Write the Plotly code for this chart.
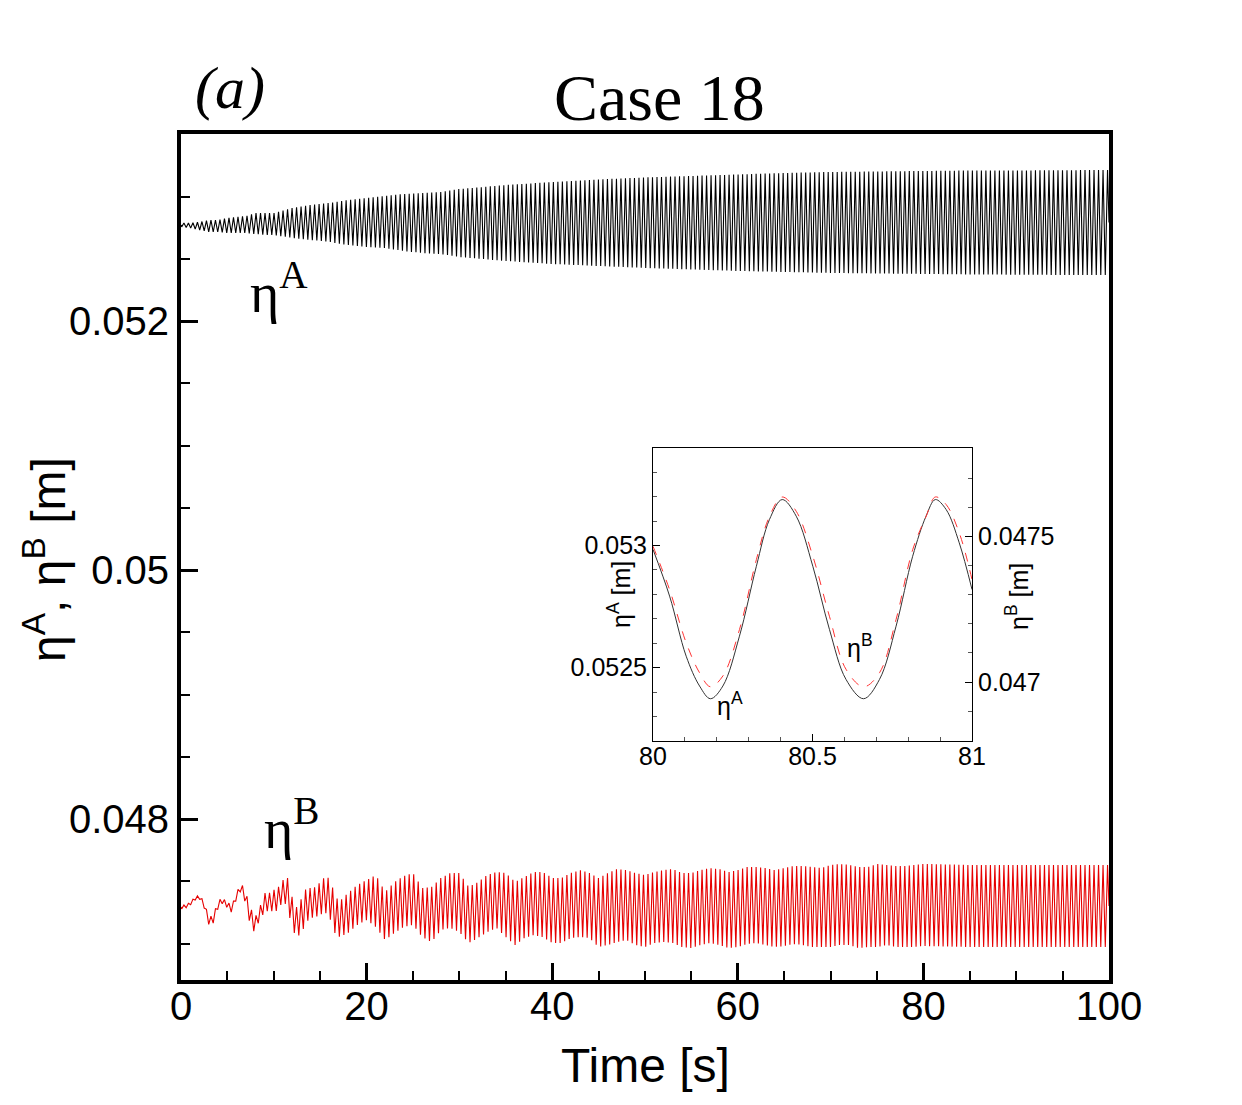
import numpy as np
import plotly.graph_objects as go

# ---------------- data ----------------
# Envelope (successive maxima / minima) of eta^A, main panel
etaA_t = [0, 1, 2, 3, 4, 5, 6, 7, 8, 9, 10, 12, 14, 16, 18, 20, 22, 24, 26, 28,
          30, 35, 40, 45, 50, 55, 60, 65, 70, 75, 80, 85, 90, 95, 100]
etaA_max = [0.052787, 0.052787, 0.052795, 0.052811, 0.052811, 0.052827, 0.052835,
            0.052843, 0.052867, 0.052867, 0.052867, 0.052908, 0.052932, 0.052948,
            0.052972, 0.052988, 0.053004, 0.053020, 0.053028, 0.053036, 0.053060,
            0.053092, 0.053116, 0.053137, 0.053153, 0.053165, 0.053177, 0.053189,
            0.053197, 0.053201, 0.053205, 0.053209, 0.053209, 0.053211, 0.053213]
etaA_min = [0.052757, 0.052747, 0.052731, 0.052715, 0.052715, 0.052707, 0.052707,
            0.052707, 0.052699, 0.052691, 0.052691, 0.052667, 0.052651, 0.052635,
            0.052610, 0.052594, 0.052586, 0.052562, 0.052546, 0.052538, 0.052514,
            0.052482, 0.052458, 0.052442, 0.052426, 0.052414, 0.052402, 0.052394,
            0.052386, 0.052382, 0.052378, 0.052374, 0.052372, 0.052370, 0.052370]

# Envelope of eta^B, main panel
etaB_t = [0, 0.5, 1, 1.5, 2, 2.5, 3, 3.5, 4, 4.5, 5, 5.5, 6, 6.5, 7, 7.5, 8, 8.5,
          9, 9.5, 10, 10.5, 11, 11.5, 12, 12.5, 13, 13.5, 14, 14.5, 15, 15.5, 16,
          16.5, 17, 18, 19, 20, 21, 22, 23, 24, 25, 26, 27, 28, 29, 30, 31, 32,
          33, 34, 35, 36, 37, 38, 39, 40, 41, 42, 43, 44, 45, 46, 47, 48, 49, 50,
          51, 52, 53, 54, 55, 56, 57, 58, 59, 60, 61, 62, 63, 64, 65, 66, 67, 68,
          69, 70, 71, 72, 73, 74, 75, 76, 77, 78, 79, 80, 85, 90, 95, 100]
etaB_max = [0.047309, 0.047309, 0.047333, 0.047374, 0.047390, 0.047333, 0.047213,
            0.047229, 0.047349, 0.047365, 0.047333, 0.047309, 0.047414, 0.047486,
            0.047406, 0.047285, 0.047213, 0.047293, 0.047406, 0.047406, 0.047430,
            0.047454, 0.047510, 0.047526, 0.047365, 0.047285, 0.047365, 0.047446,
            0.047446, 0.047454, 0.047494, 0.047534, 0.047526, 0.047414, 0.047333,
            0.047406, 0.047470, 0.047510, 0.047550, 0.047414, 0.047494, 0.047542,
            0.047566, 0.047446, 0.047454, 0.047526, 0.047566, 0.047566, 0.047454,
            0.047494, 0.047550, 0.047574, 0.047566, 0.047494, 0.047534, 0.047574,
            0.047574, 0.047526, 0.047526, 0.047566, 0.047590, 0.047566, 0.047526,
            0.047566, 0.047598, 0.047590, 0.047566, 0.047550, 0.047574, 0.047590,
            0.047598, 0.047566, 0.047566, 0.047590, 0.047606, 0.047598, 0.047574,
            0.047590, 0.047614, 0.047614, 0.047606, 0.047590, 0.047606, 0.047622,
            0.047622, 0.047614, 0.047606, 0.047631, 0.047639, 0.047631, 0.047614,
            0.047614, 0.047639, 0.047631, 0.047622, 0.047622, 0.047631, 0.047639,
            0.047631, 0.047631, 0.047631, 0.047631]
etaB_min = [0.047277, 0.047285, 0.047309, 0.047349, 0.047357, 0.047285, 0.047149,
            0.047165, 0.047285, 0.047325, 0.047285, 0.047245, 0.047365, 0.047430,
            0.047309, 0.047133, 0.047084, 0.047205, 0.047245, 0.047269, 0.047253,
            0.047269, 0.047349, 0.047285, 0.047108, 0.047052, 0.047084, 0.047173,
            0.047205, 0.047213, 0.047229, 0.047253, 0.047213, 0.047092, 0.047052,
            0.047084, 0.047149, 0.047189, 0.047133, 0.047028, 0.047084, 0.047133,
            0.047149, 0.047052, 0.047012, 0.047108, 0.047125, 0.047092, 0.047004,
            0.047044, 0.047092, 0.047125, 0.047052, 0.046988, 0.047044, 0.047068,
            0.047052, 0.047004, 0.047004, 0.047044, 0.047052, 0.047044, 0.046972,
            0.046988, 0.047012, 0.047028, 0.046988, 0.046972, 0.047004, 0.047012,
            0.047004, 0.046972, 0.046964, 0.046988, 0.047004, 0.046988, 0.046964,
            0.046972, 0.046996, 0.047004, 0.046988, 0.046972, 0.046980, 0.046996,
            0.046988, 0.046972, 0.046972, 0.046972, 0.046988, 0.046988, 0.046964,
            0.046972, 0.046972, 0.046988, 0.046972, 0.046972, 0.046972, 0.046980,
            0.046972, 0.046972, 0.046972, 0.046972]

half_period = 0.24275   # s, half of the oscillation period
first_trough = 0.0725   # s

# Inset (80 s - 81 s)
ins_t = [80.0, 80.052, 80.104, 80.146, 80.18, 80.219, 80.271, 80.324, 80.365,
         80.405, 80.449, 80.501, 80.553, 80.605, 80.66, 80.71, 80.762, 80.814,
         80.856, 80.885, 80.919, 80.96, 81.0]
ins_A = [0.052984, 0.052793, 0.052547, 0.052425, 0.052373, 0.052425, 0.052629,
         0.052915, 0.053106, 0.053188, 0.053120, 0.052915, 0.052657, 0.052452,
         0.052373, 0.052452, 0.052670, 0.052956, 0.053120, 0.053188, 0.053147,
         0.053011, 0.052820]
ins_B = [0.047466, 0.047317, 0.047135, 0.047032, 0.046984, 0.047021, 0.047180,
         0.047420, 0.047568, 0.047635, 0.047586, 0.047432, 0.047226, 0.047044,
         0.046984, 0.047032, 0.047215, 0.047454, 0.047568, 0.047635, 0.047609,
         0.047512, 0.047352]

main_yticks = [0.048, 0.05, 0.052]
main_yticktext = ["0.048", "0.05", "0.052"]
main_xticks = [0, 20, 40, 60, 80, 100]
inset_xticks = [80, 80.5, 81]
inset_xticktext = ["80", "80.5", "81"]
insA_ticks = [0.0525, 0.053]
insA_ticktext = ["0.0525", "0.053"]
insB_ticks = [0.047, 0.0475]
insB_ticktext = ["0.047", "0.0475"]


def extrema_line(env_t, env_max, env_min):
    tv = first_trough + half_period * np.arange(int((100 - first_trough) / half_period) + 1)
    hi = np.interp(tv, env_t, env_max)
    lo = np.interp(tv, env_t, env_min)
    k = np.arange(len(tv))
    yv = np.where(k % 2 == 0, lo, hi)
    t_all = np.concatenate([[0.0], tv, [100.0]])
    y_all = np.concatenate([[(env_max[0] + env_min[0]) / 2], yv,
                            [(env_max[-1] + env_min[-1]) / 2]])
    return t_all, y_all


tA, yA = extrema_line(etaA_t, etaA_max, etaA_min)
tB, yB = extrema_line(etaB_t, etaB_max, etaB_min)

BLACK = "#000000"
RED = "#e60000"
SANS = "Liberation Sans, Arial, sans-serif"
SERIF = "Liberation Serif, Times New Roman, serif"

fig = go.Figure()
fig.add_trace(go.Scatter(x=tA, y=yA, mode="lines", showlegend=False,
                         line=dict(color=BLACK, width=1.1, simplify=False),
                         xaxis="x", yaxis="y"))
fig.add_trace(go.Scatter(x=tB, y=yB, mode="lines", showlegend=False,
                         line=dict(color=RED, width=1.1, simplify=False),
                         xaxis="x", yaxis="y"))
fig.add_trace(go.Scatter(x=ins_t, y=ins_A, mode="lines", showlegend=False,
                         line=dict(color="#333333", width=1, shape="spline", smoothing=1.0),
                         xaxis="x2", yaxis="y3"))
fig.add_trace(go.Scatter(x=ins_t, y=ins_B, mode="lines", showlegend=False,
                         line=dict(color="#ff3333", width=1, dash="dash", shape="spline",
                                   smoothing=1.0),
                         xaxis="x2", yaxis="y4"))

W, H = 1242, 1105
ML, MR, MT, MB = 181, 133, 134, 125
PW, PH = W - ML - MR, H - MT - MB


def px_x(px):
    return (px - ML) / PW


def px_y(py):
    return (H - MB - py) / PH


fig.update_layout(
    width=W, height=H, autosize=False,
    margin=dict(l=ML, r=MR, t=MT, b=MB, pad=0),
    paper_bgcolor="white", plot_bgcolor="white",
    showlegend=False,
    xaxis=dict(domain=[0, 1], range=[0, 100], anchor="y",
               showgrid=False, zeroline=False,
               showline=True, linecolor=BLACK, linewidth=4, mirror=True,
               ticks="inside", ticklen=17, tickwidth=2.5, tickcolor=BLACK,
               tickvals=main_xticks, ticklabelstandoff=-12,
               tickfont=dict(family=SANS, size=40, color=BLACK),
               minor=dict(dtick=5, tick0=0, ticks="inside", ticklen=9, tickwidth=1.5,
                          tickcolor=BLACK, showgrid=False)),
    yaxis=dict(domain=[0, 1], range=[0.046707, 0.053502], anchor="x",
               showgrid=False, zeroline=False,
               showline=True, linecolor=BLACK, linewidth=4, mirror=True,
               ticks="inside", ticklen=17, tickwidth=2.5, tickcolor=BLACK,
               tickvals=main_yticks, ticktext=main_yticktext,
               tickfont=dict(family=SANS, size=40, color=BLACK),
               minor=dict(dtick=0.0005, tick0=0.048, ticks="inside", ticklen=9,
                          tickwidth=1.5, tickcolor=BLACK, showgrid=False)),
    xaxis2=dict(domain=[px_x(653), px_x(972)], range=[80, 81], anchor="y3",
                showgrid=False, zeroline=False,
                showline=True, linecolor=BLACK, linewidth=1, mirror=True,
                ticks="inside", ticklen=7, tickwidth=1, tickcolor=BLACK,
                tickvals=inset_xticks, ticktext=inset_xticktext, ticklabelstandoff=-7,
                tickfont=dict(family=SANS, size=25, color=BLACK),
                minor=dict(dtick=0.1, tick0=80, ticks="inside", ticklen=4, tickwidth=1,
                           tickcolor="#555555", showgrid=False)),
    yaxis3=dict(domain=[px_y(741), px_y(448)], range=[0.0522, 0.053399], anchor="x2",
                showgrid=False, zeroline=False,
                showline=True, linecolor=BLACK, linewidth=1,
                ticks="inside", ticklen=7, tickwidth=1, tickcolor=BLACK,
                tickvals=insA_ticks, ticktext=insA_ticktext,
                tickfont=dict(family=SANS, size=25, color=BLACK),
                minor=dict(dtick=0.0001, tick0=0.0525, ticks="inside", ticklen=4,
                           tickwidth=1, tickcolor="#555555", showgrid=False)),
    yaxis4=dict(domain=[px_y(741), px_y(448)], range=[0.046798, 0.047803],
                anchor="x2", overlaying="y3", side="right",
                showgrid=False, zeroline=False,
                showline=True, linecolor=BLACK, linewidth=1,
                ticks="inside", ticklen=7, tickwidth=1, tickcolor=BLACK,
                tickvals=insB_ticks, ticktext=insB_ticktext,
                tickfont=dict(family=SANS, size=25, color=BLACK),
                minor=dict(dtick=0.0001, tick0=0.047, ticks="inside", ticklen=4,
                           tickwidth=1, tickcolor="#555555", showgrid=False)),
)

ann = []
# titles
ann.append(dict(text="Case 18", xref="paper", yref="paper", x=px_x(659), y=px_y(98),
                xanchor="center", yanchor="middle", showarrow=False,
                font=dict(family=SERIF, size=66, color=BLACK)))
ann.append(dict(text="<i>(a)</i>", xref="paper", yref="paper", x=px_x(230), y=px_y(88),
                xanchor="center", yanchor="middle", showarrow=False,
                font=dict(family=SERIF, size=60, color=BLACK)))
ann.append(dict(text="Time [s]", xref="paper", yref="paper", x=px_x(645), y=px_y(1065),
                xanchor="center", yanchor="middle", showarrow=False,
                font=dict(family=SANS, size=48, color=BLACK)))
ann.append(dict(text="η<sup>A</sup>, η<sup>B</sup> [m]", xref="paper", yref="paper",
                x=px_x(45), y=px_y(560), xanchor="center", yanchor="middle",
                textangle=-90, showarrow=False,
                font=dict(family=SANS, size=48, color=BLACK)))
# curve labels, main panel
ann.append(dict(text="η<sup>A</sup>", xref="x", yref="y", x=10.56, y=0.052265,
                xanchor="center", yanchor="middle", showarrow=False,
                font=dict(family=SERIF, size=56, color=BLACK)))
ann.append(dict(text="η<sup>B</sup>", xref="x", yref="y", x=11.96, y=0.047952,
                xanchor="center", yanchor="middle", showarrow=False,
                font=dict(family=SERIF, size=56, color=BLACK)))
# inset labels
ann.append(dict(text="η<sup>A</sup>", xref="x2", yref="y3", x=80.241, y=0.05235,
                xanchor="center", yanchor="middle", showarrow=False,
                font=dict(family=SANS, size=25, color=BLACK)))
ann.append(dict(text="η<sup>B</sup>", xref="x2", yref="y3", x=80.649, y=0.052587,
                xanchor="center", yanchor="middle", showarrow=False,
                font=dict(family=SANS, size=25, color=BLACK)))
ann.append(dict(text="η<sup>A</sup> [m]", xref="paper", yref="paper",
                x=px_x(619), y=px_y(595), xanchor="center", yanchor="middle",
                textangle=-90, showarrow=False,
                font=dict(family=SANS, size=25, color=BLACK)))
ann.append(dict(text="η<sup>B</sup> [m]", xref="paper", yref="paper",
                x=px_x(1017), y=px_y(597), xanchor="center", yanchor="middle",
                textangle=-90, showarrow=False,
                font=dict(family=SANS, size=25, color=BLACK)))
fig.update_layout(annotations=ann)

fig.write_html("out.html")
